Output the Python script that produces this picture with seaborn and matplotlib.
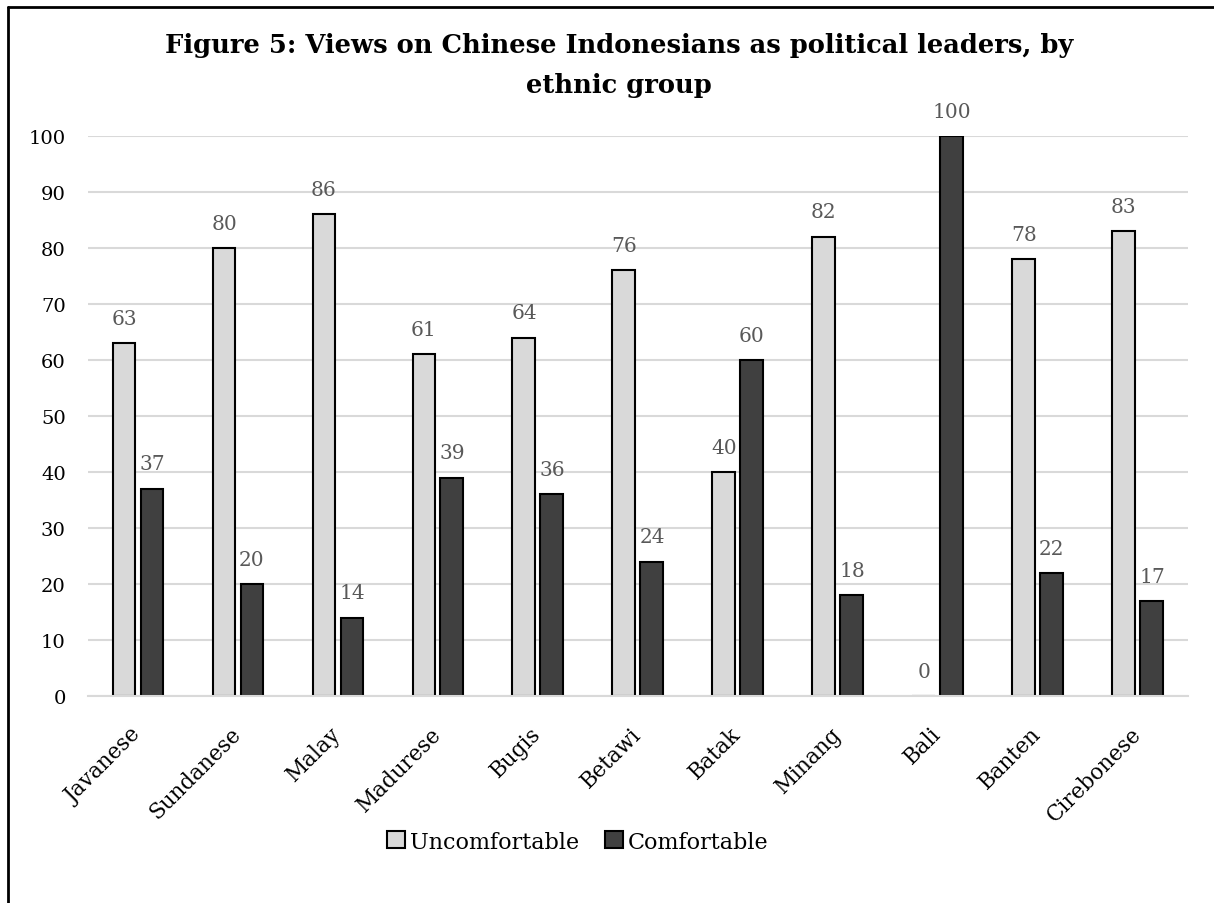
import matplotlib
matplotlib.use("Agg")
import matplotlib.pyplot as plt
from matplotlib.lines import Line2D
from matplotlib.patches import Patch
from matplotlib.transforms import ScaledTranslation
import seaborn as sns
import pandas as pd

categories = ["Javanese", "Sundanese", "Malay", "Madurese", "Bugis", "Betawi",
              "Batak", "Minang", "Bali", "Banten", "Cirebonese"]
uncomfortable = [63, 80, 86, 61, 64, 76, 40, 82, 0, 78, 83]
comfortable = [37, 20, 14, 39, 36, 24, 60, 18, 100, 22, 17]
series_names = ["Uncomfortable", "Comfortable"]
yticks = [0, 10, 20, 30, 40, 50, 60, 70, 80, 90, 100]
title = "Figure 5: Views on Chinese Indonesians as political leaders, by\nethnic group"

df = pd.DataFrame({
    "group": categories * 2,
    "series": [series_names[0]] * len(categories) + [series_names[1]] * len(categories),
    "value": uncomfortable + comfortable,
})

sns.set_theme(style="white")
plt.rcParams["font.family"] = ["DejaVu Serif"]
plt.rcParams["text.color"] = "black"
plt.rcParams["xtick.color"] = "black"
plt.rcParams["ytick.color"] = "black"

fig = plt.figure(figsize=(12.14, 9.04), dpi=100)
ax = fig.add_axes([0.0725, 0.229, 0.906, 0.6195])

colors = {"Uncomfortable": "#d9d9d9", "Comfortable": "#404040"}
sns.barplot(data=df, x="group", y="value", hue="series", order=categories,
            hue_order=series_names, palette=colors, width=0.56, gap=0.18,
            edgecolor="black", linewidth=1.5, legend=False, ax=ax)

for cont in ax.containers:
    ax.bar_label(cont, labels=[f"{v:.0f}" for v in cont.datavalues], padding=11,
                 fontsize=14.5, color="#595959")

ax.set_ylim(0, 100)
ax.set_xlim(-0.5, len(categories) - 0.5)
ax.set_yticks(yticks)
ax.set_yticklabels([str(t) for t in yticks], fontsize=14)
ax.set_xlabel("")
ax.set_ylabel("")
ax.yaxis.grid(True, color="#d9d9d9", linewidth=1.5)
ax.set_axisbelow(True)
for s in ["top", "right", "left"]:
    ax.spines[s].set_visible(False)
ax.spines["bottom"].set_color("#d9d9d9")
ax.spines["bottom"].set_linewidth(1.5)
ax.tick_params(axis="y", length=0, pad=16)
ax.tick_params(axis="x", length=0, pad=19)
shift = ScaledTranslation(-8 / 100, 0, fig.dpi_scale_trans)
for lab in ax.get_xticklabels():
    lab.set_rotation(45)
    lab.set_ha("right")
    lab.set_rotation_mode("anchor")
    lab.set_fontsize(15.5)
    lab.set_transform(lab.get_transform() + shift)

fig.text(0.51, 0.963, title, ha="center", va="top", fontsize=18.5,
         fontweight="bold", linespacing=1.75)

handles = [Patch(facecolor=colors[n], edgecolor="black", linewidth=1.5, label=n)
           for n in series_names]
fig.legend(handles=handles, loc="center", bbox_to_anchor=(0.476, 0.068), ncol=2,
           frameon=False, fontsize=16, handlelength=0.8, handleheight=0.8,
           handletextpad=0.2, columnspacing=1.2)

fig.add_artist(Line2D([8 / 1214, 1.0], [1 - 8 / 904, 1 - 8 / 904], color="black",
                      linewidth=2, transform=fig.transFigure))
fig.add_artist(Line2D([8 / 1214, 8 / 1214], [0.0, 1 - 8 / 904], color="black",
                      linewidth=2, transform=fig.transFigure))

fig.savefig("out.png", dpi=100)
